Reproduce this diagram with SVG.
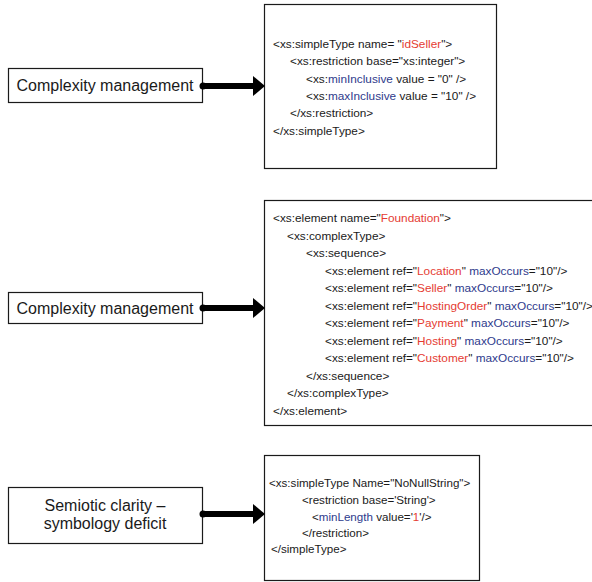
<svg xmlns="http://www.w3.org/2000/svg" width="592" height="582" viewBox="0 0 592 582">
<style>
.box{fill:#fff;stroke:#1a1a1a;stroke-width:1.2}
.lbl{font-family:"Liberation Sans",Arial,sans-serif;font-size:16px;fill:#1a1a1a;text-anchor:middle}
.code{font-family:"Liberation Sans",Arial,sans-serif;font-size:11.8px;fill:#1a1a1a}
.code3{font-family:"Liberation Sans",Arial,sans-serif;font-size:11.6px;fill:#1a1a1a}
.r{fill:#e53b32}
.b{fill:#2e3a8c}
.conn{stroke:#000;stroke-width:6;fill:none}
</style>
<defs>
<marker id="head" markerUnits="userSpaceOnUse" markerWidth="12" markerHeight="20" refX="0" refY="10" orient="auto">
<path d="M0,0 L12,10 L0,20 Z" fill="#000"/>
</marker>
</defs>
<g id="label1"><rect class="box" x="8.5" y="68.5" width="194" height="34"/><text class="lbl" x="105" y="91">Complexity management</text></g>
<g id="code1"><rect class="box" x="264.5" y="4.5" width="232" height="164"/>
<text class="code" x="273" y="48">&lt;xs:simpleType name= "<tspan class="r">idSeller</tspan>"&gt;</text>
<text class="code" x="290" y="65">&lt;xs:restriction base="xs:integer"&gt;</text>
<text class="code" x="306" y="83">&lt;xs:<tspan class="b">minInclusive</tspan> value = "0" /&gt;</text>
<text class="code" x="306" y="100">&lt;xs:<tspan class="b">maxInclusive</tspan> value = "10" /&gt;</text>
<text class="code" x="290" y="117">&lt;/xs:restriction&gt;</text>
<text class="code" x="273" y="135">&lt;/xs:simpleType&gt;</text>
</g>
<g id="label2"><rect class="box" x="8.5" y="292.5" width="194" height="31"/><text class="lbl" x="105" y="314">Complexity management</text></g>
<g id="code2"><rect class="box" x="264.5" y="200.5" width="340" height="225"/>
<text class="code" x="273" y="222">&lt;xs:element name="<tspan class="r">Foundation</tspan>"&gt;</text>
<text class="code" x="287" y="239.5">&lt;xs:complexType&gt;</text>
<text class="code" x="306" y="257">&lt;xs:sequence&gt;</text>
<text class="code" x="325" y="274.5">&lt;xs:element ref="<tspan class="r">Location</tspan>" <tspan class="b">maxOccurs</tspan>="10"/&gt;</text>
<text class="code" x="325" y="292">&lt;xs:element ref="<tspan class="r">Seller</tspan>" <tspan class="b">maxOccurs</tspan>="10"/&gt;</text>
<text class="code" x="325" y="309.5">&lt;xs:element ref="<tspan class="r">HostingOrder</tspan>" <tspan class="b">maxOccurs</tspan>="10"/&gt;</text>
<text class="code" x="325" y="327">&lt;xs:element ref="<tspan class="r">Payment</tspan>" <tspan class="b">maxOccurs</tspan>="10"/&gt;</text>
<text class="code" x="325" y="344.5">&lt;xs:element ref="<tspan class="r">Hosting</tspan>" <tspan class="b">maxOccurs</tspan>="10"/&gt;</text>
<text class="code" x="325" y="362">&lt;xs:element ref="<tspan class="r">Customer</tspan>" <tspan class="b">maxOccurs</tspan>="10"/&gt;</text>
<text class="code" x="306" y="379.5">&lt;/xs:sequence&gt;</text>
<text class="code" x="287" y="397">&lt;/xs:complexType&gt;</text>
<text class="code" x="273" y="414.5">&lt;/xs:element&gt;</text>
</g>
<g id="label3"><rect class="box" x="8.5" y="487.5" width="194" height="56"/><text class="lbl" x="105" y="511">Semiotic clarity –</text><text class="lbl" x="105" y="529">symbology deficit</text></g>
<g id="code3"><rect class="box" x="264.5" y="455.5" width="215" height="125"/>
<text class="code3" x="269" y="487">&lt;xs:simpleType Name="NoNullString"&gt;</text>
<text class="code3" x="302" y="504">&lt;restriction base='String'&gt;</text>
<text class="code3" x="312" y="521">&lt;<tspan class="b">minLength</tspan> value='<tspan class="r">1</tspan>'/&gt;</text>
<text class="code3" x="302" y="537">&lt;/restriction&gt;</text>
<text class="code3" x="271" y="553">&lt;/simpleType&gt;</text>
</g>
<g id="connectors">
<circle cx="203" cy="86" r="3.5" fill="#000"/>
<line class="conn" x1="203" y1="86" x2="253" y2="86" marker-end="url(#head)"/>
<circle cx="203" cy="308" r="3.5" fill="#000"/>
<line class="conn" x1="203" y1="308" x2="253" y2="308" marker-end="url(#head)"/>
<circle cx="203" cy="514" r="3.5" fill="#000"/>
<line class="conn" x1="203" y1="514" x2="253" y2="514" marker-end="url(#head)"/>
</g>
</svg>
